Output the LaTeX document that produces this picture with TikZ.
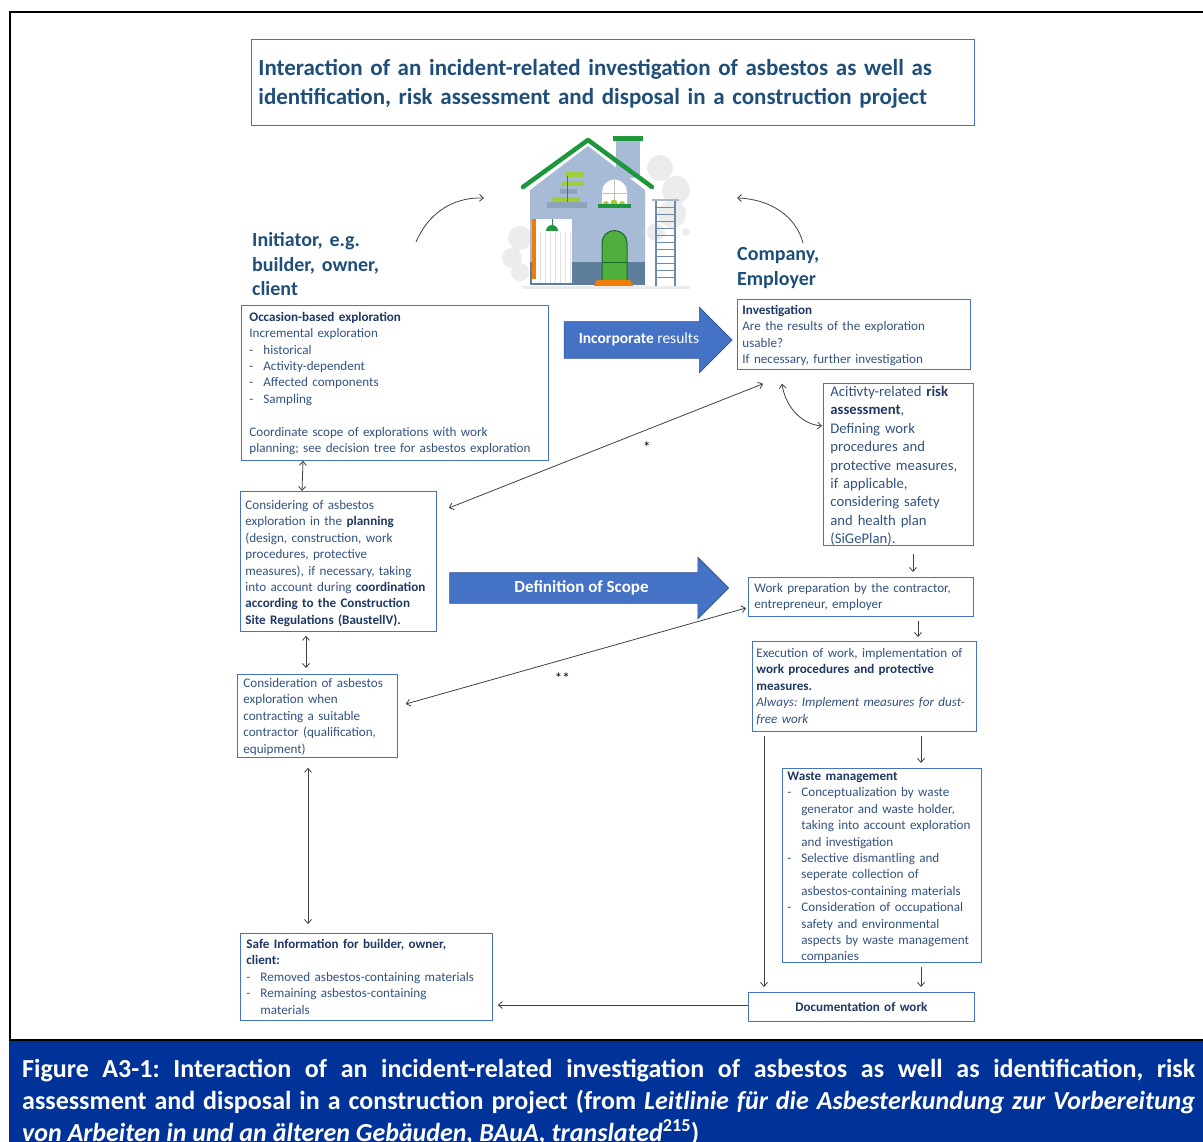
\documentclass[tikz,border=0pt]{standalone}
\usepackage{fontspec}
\setmainfont{Carlito}
\usetikzlibrary{arrows.meta,shapes.arrows}

\definecolor{frameblue}{RGB}{68,114,196}
\definecolor{arrowedge}{RGB}{47,82,143}
\definecolor{titleblue}{RGB}{31,78,121}
\definecolor{textblue}{RGB}{50,82,128}
\definecolor{darkblue}{RGB}{31,56,100}
\definecolor{captionblue}{RGB}{0,51,153}
\definecolor{linegrey}{RGB}{64,64,64}
\definecolor{wallblue}{RGB}{168,187,214}
\definecolor{baseblue}{RGB}{94,126,155}
\definecolor{roofgreen}{RGB}{30,150,60}
\definecolor{doorgreen}{RGB}{80,175,60}
\definecolor{leafgreen}{RGB}{160,205,60}
\definecolor{steporange}{RGB}{240,125,10}
\definecolor{cloudgrey}{RGB}{236,236,236}
\definecolor{laddergrey}{RGB}{110,140,170}

\newcommand{\keyword}[1]{\textbf{\color{darkblue}#1}}
\newcommand{\itemdash}{\makebox[14pt][l]{-}}
\newcommand{\itemgap}{\hspace*{14pt}}
\hyphenpenalty=10000
\exhyphenpenalty=10000
\frenchspacing

\begin{document}
\begin{tikzpicture}[x=1pt,y=-1pt]
    \tikzstyle{info box}=[
        draw = frameblue,
        line width = 0.8pt,
        anchor = north west,
        inner xsep = 6pt,
        inner ysep = 0pt,
        align = left,
        text = textblue,
        font = \fontsize{13.1}{16.4}\selectfont
    ]
    \tikzstyle{head label}=[
        anchor = base west,
        inner sep = 0pt,
        text width = 160pt,
        align = left,
        text = titleblue,
        font = \bfseries\fontsize{20}{24.5}\selectfont
    ]
    \tikzstyle{block arrow}=[
        single arrow,
        fill = frameblue,
        draw = arrowedge,
        line width = 0.6pt,
        inner xsep = 0pt,
        text = white
    ]
    \tikzstyle{link}=[
        draw = linegrey,
        line width = 0.8pt,
        {Straight Barb[length=4pt,width=7pt]}-{Straight Barb[length=4pt,width=7pt]}
    ]
    \tikzstyle{flow}=[
        draw = linegrey,
        line width = 0.8pt,
        -{Straight Barb[length=4pt,width=7pt]}
    ]
    \tikzstyle{mark label}=[
        text = black,
        inner sep = 0pt,
        font = \fontsize{15}{15}\selectfont
    ]

    \useasboundingbox (0,0) rectangle (1203,1142);
    \clip (0,0) rectangle (1203,1142);

    % frame and caption band
    \fill[captionblue] (9,1040) rectangle (1210,1150);
    \draw[line width=2pt] (1210,12) -- (10,12) -- (10,1040) -- (1210,1040);

    % title
    \node[info box, text width=709pt, inner xsep=7pt, text height=36pt, text depth=50pt,
          text=titleblue, font=\bfseries\fontsize{23}{29.5}\selectfont] (t) at (251,39)
        {Interaction of an incident-related investigation of asbestos as well as\\
         identification, risk assessment and disposal in a construction project};

    % house
    \fill[cloudgrey] (660,168) circle (13) (676,190) circle (14) (672,214) circle (14)
        (656,232) circle (9) (686,232) circle (4) (520,238) circle (12) (512,258) circle (10)
        (520,272) circle (9);
    \fill[wallblue] (616,140) rectangle (640,178);
    \fill[roofgreen] (613,136) rectangle (643,141);
    \fill[wallblue] (530,190) -- (588,146) -- (645,190) -- (645,285) -- (530,285) -- cycle;
    \fill[baseblue] (530,262) rectangle (645,285);
    \draw[roofgreen, line width=4.5pt, line join=round, line cap=round]
        (523,187) -- (588,140) -- (652,187);
    \fill[white] (602,205) -- (602,192) arc (180:360:12.5) -- (627,205) -- cycle;
    \draw[black!25, line width=0.8pt] (614.5,180) -- (614.5,205) (602,193) -- (627,193);
    \fill[leafgreen] (606,204) circle (3) (614,203) circle (3.5) (622,204) circle (3);
    \fill[roofgreen] (598,204) rectangle (631,208);
    \fill[laddergrey!80] (547,202) rectangle (587,208);
    \fill[leafgreen] (552,197) rectangle (580,202);
    \fill[laddergrey!80] (560,189) rectangle (577,194);
    \fill[leafgreen] (562,181) rectangle (584,186);
    \fill[leafgreen] (566,172) rectangle (584,177);
    \draw[roofgreen, line width=1pt] (567,202) -- (567,176);
    \fill[white] (532,219) rectangle (572,283);
    \draw[black!12, line width=0.3pt, step=5] (537,232) grid (572,283);
    \fill[steporange] (532,219) rectangle (536,279);
    \draw[roofgreen, line width=0.8pt] (552,219) -- (552,225);
    \fill[roofgreen] (546,231) arc (180:360:6) -- cycle;
    \fill[doorgreen] (602,283) -- (602,243) arc (180:360:12.5) -- (627,283) -- cycle;
    \draw[roofgreen!70!black, line width=1pt] (602,283) -- (602,243) arc (180:360:12.5) -- (627,283);
    \draw[roofgreen!70!black, line width=0.8pt] (602,262) -- (627,262);
    \fill[steporange] (593,287) -- (597,280) -- (630,280) -- (634,287) -- cycle;
    \draw[laddergrey, line width=1.5pt] (656,201) -- (656,286) (675,201) -- (675,286);
    \foreach \y in {208,215,...,280}
        \draw[laddergrey, line width=1pt] (656,\y) -- (675,\y);
    \draw[laddergrey!60, line width=2pt] (652,200) -- (679,200);
    \fill[black!8] (522,286) rectangle (690,289);

    % parties
    \node[head label] (init) at (252,247) {Initiator, e.g.\\builder, owner,\\client};
    \node[head label] (comp) at (737,261) {Company,\\Employer};
    \coordinate (hw) at (484,198);
    \coordinate (he) at (737,198);
    \coordinate (iw) at (416,242);
    \coordinate (ce) at (803,243);
    \draw[flow] (iw) .. controls (428,214) and (452,197) .. (hw);
    \draw[flow] (ce) .. controls (796,216) and (770,199) .. (he);

    % initiator side
    \node[info box, text width=291pt, inner xsep=8pt, text height=16pt, text depth=139pt] (e) at (241,305)
        {\keyword{Occasion-based exploration}\\
         Incremental exploration\\
         \itemdash historical\\
         \itemdash Activity-dependent\\
         \itemdash Affected components\\
         \itemdash Sampling\\
         \mbox{}\\
         Coordinate scope of explorations with work\\
         planning; see decision tree for asbestos exploration};
    \node[info box, text width=186pt, inner xsep=5pt, text height=18pt, text depth=122pt] (p) at (240,491)
        {Considering of asbestos\\
         exploration in the \keyword{planning}\\
         (design, construction, work\\
         procedures, protective\\
         measures), if necessary, taking\\
         into account during \keyword{coordination}\\
         \keyword{according to the Construction}\\
         \keyword{Site Regulations (BaustellV).}};
    \node[info box, text width=148pt, text height=13pt, text depth=70pt] (c) at (237,674)
        {Consideration of asbestos\\
         exploration when\\
         contracting a suitable\\
         contractor (qualification,\\
         equipment)};
    \node[info box, text width=240pt, text height=15pt, text depth=72pt] (s) at (240,933)
        {\keyword{Safe Information for builder, owner,}\\
         \keyword{client:}\\
         \itemdash Removed asbestos-containing materials\\
         \itemdash Remaining asbestos-containing\\
         \itemgap materials};

    % company side
    \node[info box, text width=223pt, inner xsep=5pt, text height=15pt, text depth=55pt] (i) at (737,299)
        {\keyword{Investigation}\\
         Are the results of the exploration\\
         usable?\\
         If necessary, further investigation};
    \node[info box, text width=136pt, inner xsep=7pt, text height=13pt, text depth=149pt,
          font=\fontsize{14.7}{18.4}\selectfont] (r) at (823,383)
        {Acitivty-related \keyword{risk}\\
         \keyword{assessment},\\
         Defining work\\
         procedures and\\
         protective measures,\\
         if applicable,\\
         considering safety\\
         and health plan\\
         (SiGePlan).};
    \node[info box, text width=213pt, text height=15pt, text depth=24pt] (w) at (748,577)
        {Work preparation by the contractor,\\
         entrepreneur, employer};
    \node[info box, text width=216pt, inner xsep=4pt, text height=16pt, text depth=74pt] (x) at (752,641)
        {Execution of work, implementation of\\
         \keyword{work procedures and protective}\\
         \keyword{measures.}\\
         \textit{Always: Implement measures for dust-}\\
         \textit{free work}};
    \node[info box, text width=189pt, inner xsep=5pt, text height=12pt, text depth=182pt] (m) at (782,768)
        {\keyword{Waste management}\\
         \itemdash Conceptualization by waste\\
         \itemgap generator and waste holder,\\
         \itemgap taking into account exploration\\
         \itemgap and investigation\\
         \itemdash Selective dismantling and\\
         \itemgap seperate collection of\\
         \itemgap asbestos-containing materials\\
         \itemdash Consideration of occupational\\
         \itemgap safety and environmental\\
         \itemgap aspects by waste management\\
         \itemgap companies};
    \node[info box, text width=214pt, align=center, text height=19pt, text depth=10pt] (d) at (748,992)
        {\keyword{Documentation of work}};

    % block arrows
    \node[block arrow, minimum height=168pt, minimum width=65pt, single arrow head extend=14.5pt,
          text height=11pt, text depth=3pt, inner ysep=11pt,
          font=\fontsize{15.5}{16}\selectfont] (ir) at (639,340)
        {\textbf{Incorporate} results};
    \node[block arrow, minimum height=279pt, minimum width=61pt, single arrow head extend=15.5pt,
          text height=12pt, text depth=4pt, inner ysep=7pt,
          font=\bfseries\fontsize{17}{18}\selectfont] (ds) at (581.5,588)
        {Definition of Scope};

    % connectors
    \draw[link] ([xshift=62pt]e.south west) -- ([xshift=62pt]p.north west);
    \draw[link] ([xshift=12pt,yshift=-17pt]p.north east) --
        node[mark label, pos=0.63, yshift=-17pt]{*} ([xshift=26pt,yshift=-14pt]i.south west);
    \draw[link] ([xshift=45pt,yshift=-14pt]i.south west) .. controls (785,405) and (800,424) ..
        ([xshift=-1pt,yshift=-43pt]r.north west);
    \draw[link] ([xshift=66pt,yshift=-4pt]p.south west) -- ([xshift=69pt,yshift=6pt]c.north west);
    \draw[link] ([xshift=8pt,yshift=-30pt]c.north east) --
        node[mark label, pos=0.46, yshift=-18pt]{**} ([xshift=-2pt,yshift=-31pt]w.north west);
    \draw[link] ([xshift=71pt,yshift=-10pt]c.south west) -- ([xshift=68pt,yshift=9pt]s.north west);
    \draw[flow] ([xshift=90pt,yshift=-8pt]r.south west) -- ([xshift=165pt,yshift=5pt]w.north west);
    \draw[flow] ([xshift=170pt,yshift=-4pt]w.south west) -- ([xshift=166pt,yshift=4pt]x.north west);
    \draw[flow] ([xshift=169pt,yshift=-4pt]x.south west) -- ([xshift=139pt,yshift=5pt]m.north west);
    \draw[flow] ([xshift=12pt,yshift=-4pt]x.south west) -- ([xshift=16pt,yshift=5pt]d.north west);
    \draw[flow] ([xshift=139pt,yshift=-4pt]m.south west) -- ([xshift=173pt,yshift=5pt]d.north west);
    \draw[flow] ([yshift=-13pt]d.north west) -- ([xshift=5pt,yshift=-72pt]s.north east);

    % caption
    \node[anchor=base west, inner sep=0pt, text width=1173pt, align=justify, text=white,
          font=\bfseries\fontsize{26}{32}\selectfont] (cap) at (22,1077)
        {Figure A3-1: Interaction of an incident-related investigation of asbestos as well as identification, risk\linebreak
         assessment and disposal in a construction project (from \textit{Leitlinie für die Asbesterkundung zur Vorbereitung}\linebreak
         \textit{von Arbeiten in und an älteren Gebäuden, BAuA, translated}\textsuperscript{215})};
\end{tikzpicture}
\end{document}
